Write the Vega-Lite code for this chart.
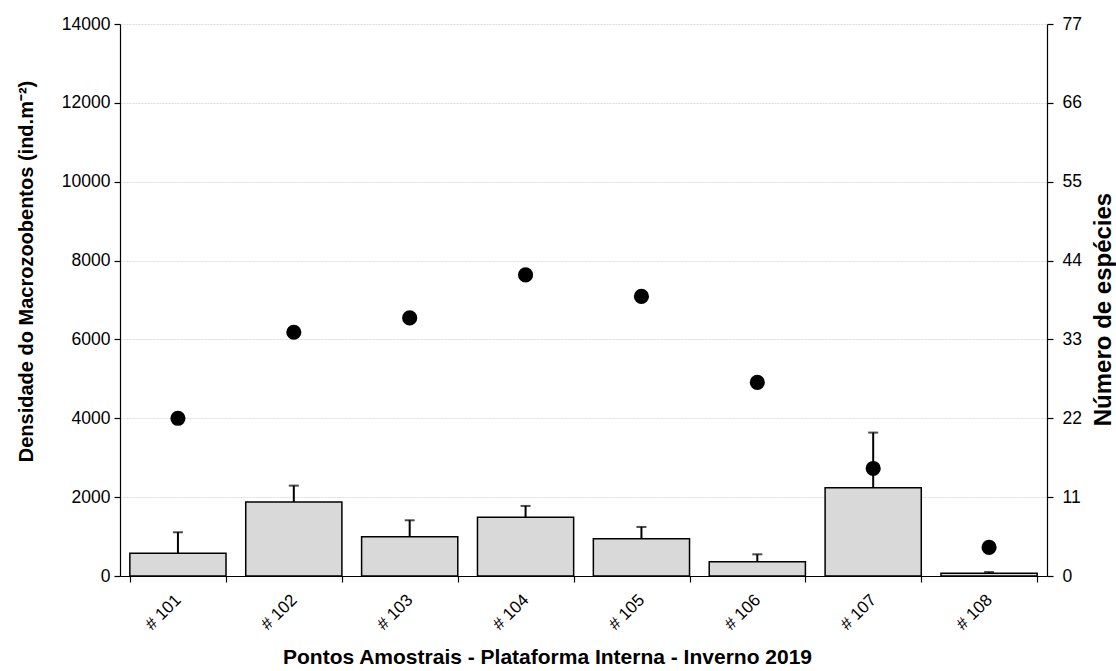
{
  "$schema": "https://vega.github.io/schema/vega-lite/v6.json",
  "width": 927,
  "height": 552,
  "autosize": {"type": "none"},
  "padding": {"left": 120, "top": 24, "right": 69, "bottom": 95},
  "background": "white",
  "config": {
    "font": "Liberation Sans",
    "view": {"stroke": null},
    "axis": {
      "domainColor": "black",
      "tickColor": "black",
      "labelColor": "black",
      "titleColor": "black",
      "labelFontSize": 17.5,
      "titleFontSize": 20,
      "titleFontWeight": "bold",
      "domainWidth": 1.2,
      "tickWidth": 1.2
    }
  },
  "data": {
    "values": [
      {"site": "# 101", "dens": 576, "dens_hi": 1109, "species": 22},
      {"site": "# 102", "dens": 1878, "dens_hi": 2292, "species": 34},
      {"site": "# 103", "dens": 998, "dens_hi": 1413, "species": 36},
      {"site": "# 104", "dens": 1489, "dens_hi": 1777, "species": 42},
      {"site": "# 105", "dens": 947, "dens_hi": 1244, "species": 39},
      {"site": "# 106", "dens": 364, "dens_hi": 550, "species": 27},
      {"site": "# 107", "dens": 2241, "dens_hi": 3637, "species": 15},
      {"site": "# 108", "dens": 68, "dens_hi": 100, "species": 4}
    ]
  },
  "encoding": {
    "x": {
      "field": "site",
      "type": "nominal",
      "sort": null,
      "scale": {"paddingInner": 0.17, "paddingOuter": 0.085}
    }
  },
  "layer": [
    {
      "layer": [
        {
          "mark": {"type": "bar", "fill": "#d9d9d9", "stroke": "black", "strokeWidth": 1.5},
          "encoding": {
            "x": {
              "field": "site",
              "type": "nominal",
              "sort": null,
              "axis": {
                "title": "Pontos Amostrais - Plataforma Interna - Inverno 2019",
                "labelAngle": -45,
                "labelAlign": "right",
                "labelBaseline": "middle",
                "labelPadding": 15,
                "labelFontSize": 17,
                "tickBand": "extent",
                "tickSize": 6,
                "titleFontSize": 21,
                "titleX": 427,
                "titleY": 81,
                "titleAlign": "center",
                "titleBaseline": "middle",
                "grid": false
              }
            },
            "y": {
              "field": "dens",
              "type": "quantitative",
              "scale": {"domain": [0, 14000], "nice": false},
              "axis": {
                "title": "Densidade do Macrozoobentos (ind.m⁻²)",
                "values": [0, 2000, 4000, 6000, 8000, 10000, 12000, 14000],
                "format": "d",
                "tickSize": 6,
                "labelPadding": 4,
                "grid": true,
                "gridColor": "#dcdcdc",
                "gridWidth": 1,
                "gridDash": [2, 1],
                "titleX": -94,
                "titleY": 247,
                "titleAlign": "center",
                "titleBaseline": "middle"
              }
            }
          }
        },
        {
          "mark": {"type": "rule", "color": "black", "strokeWidth": 2},
          "encoding": {
            "y": {"field": "dens", "type": "quantitative"},
            "y2": {"field": "dens_hi"}
          }
        },
        {
          "mark": {"type": "tick", "color": "black", "size": 10, "thickness": 2, "orient": "horizontal"},
          "encoding": {
            "y": {"field": "dens_hi", "type": "quantitative"}
          }
        }
      ]
    },
    {
      "mark": {"type": "circle", "color": "black", "opacity": 1, "size": 230},
      "encoding": {
        "y": {
          "field": "species",
          "type": "quantitative",
          "scale": {"domain": [0, 77], "nice": false},
          "axis": {
            "orient": "right",
            "title": "Número de espécies",
            "values": [0, 11, 22, 33, 44, 55, 66, 77],
            "tickSize": 6,
            "labelPadding": 9,
            "grid": false,
            "titleFontSize": 24,
            "titleAngle": -90,
            "titleX": 56,
            "titleY": 285,
            "titleAlign": "center",
            "titleBaseline": "middle"
          }
        }
      }
    }
  ],
  "resolve": {"scale": {"y": "independent"}}
}
